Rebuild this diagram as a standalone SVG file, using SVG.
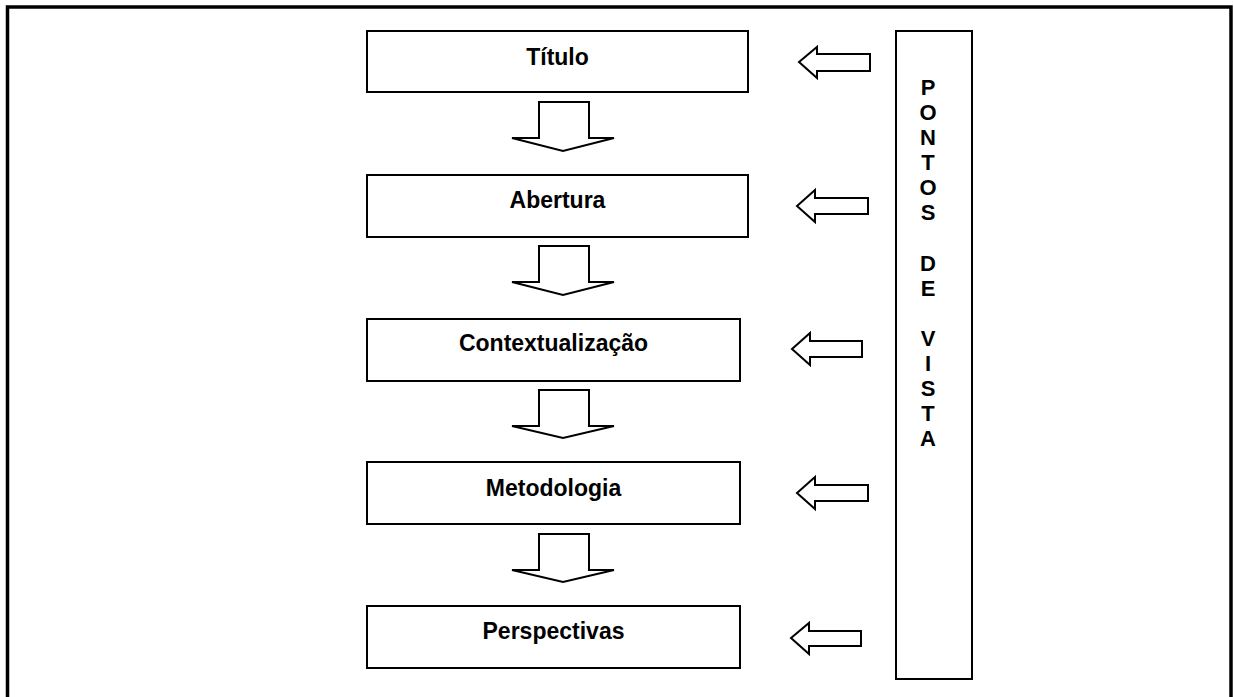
<svg xmlns="http://www.w3.org/2000/svg" width="1234" height="697" viewBox="0 0 1234 697">
<style>
.box{fill:#fff;stroke:#000;stroke-width:2}
.arr{fill:#fff;stroke:#000;stroke-width:2;stroke-linejoin:miter}
.lbl{font-family:"Liberation Sans",Arial,sans-serif;font-weight:bold;font-size:23px;fill:#000;text-anchor:middle}
.v{font-family:"Liberation Sans",Arial,sans-serif;font-weight:bold;font-size:22px;fill:#000;text-anchor:middle}
</style>
<rect x="0" y="0" width="1234" height="697" fill="#fff"/>
<rect x="7.5" y="7" width="1223.5" height="720" fill="none" stroke="#000" stroke-width="3.5"/>
<g id="titulo"><rect class="box" x="367" y="31" width="381" height="61"/><text class="lbl" x="557.5" y="65">Título</text></g>
<g id="abertura"><rect class="box" x="367" y="175" width="381" height="62"/><text class="lbl" x="557.5" y="208">Abertura</text></g>
<g id="contextualizacao"><rect class="box" x="367" y="319" width="373" height="62"/><text class="lbl" x="553.5" y="351">Contextualização</text></g>
<g id="metodologia"><rect class="box" x="367" y="462" width="373" height="62"/><text class="lbl" x="553.5" y="496">Metodologia</text></g>
<g id="perspectivas"><rect class="box" x="367" y="606" width="373" height="62"/><text class="lbl" x="553.5" y="639">Perspectivas</text></g>
<g id="pontos-de-vista"><rect class="box" x="896" y="31" width="76" height="648"/>
<text class="v" x="928" y="95">P</text>
<text class="v" x="928" y="120">O</text>
<text class="v" x="928" y="145">N</text>
<text class="v" x="928" y="170">T</text>
<text class="v" x="928" y="195">O</text>
<text class="v" x="928" y="220">S</text>
<text class="v" x="928" y="271">D</text>
<text class="v" x="928" y="296">E</text>
<text class="v" x="928" y="346">V</text>
<text class="v" x="928" y="371">I</text>
<text class="v" x="928" y="396">S</text>
<text class="v" x="928" y="421">T</text>
<text class="v" x="928" y="446">A</text>
</g>
<g id="connectors">
<polygon class="arr" points="539,102 589,102 589,138 614,138 563,151 512,138 539,138"/>
<polygon class="arr" points="539,246 589,246 589,282 614,282 563,295 512,282 539,282"/>
<polygon class="arr" points="539,390 589,390 589,426 614,426 563,438 512,426 539,426"/>
<polygon class="arr" points="539,534 589,534 589,570 614,570 563,582 512,570 539,570"/>
<polygon class="arr" points="799,62 817,47 817,54 870,54 870,71 817,71 817,78"/>
<polygon class="arr" points="797,206 815,190 815,198 868,198 868,214 815,214 815,222"/>
<polygon class="arr" points="792,349 810,333 810,341 862,341 862,357 810,357 810,365"/>
<polygon class="arr" points="797,493 815,477 815,485 868,485 868,501 815,501 815,509"/>
<polygon class="arr" points="791,638 809,623 809,631 861,631 861,646 809,646 809,654"/>
</g>
</svg>
